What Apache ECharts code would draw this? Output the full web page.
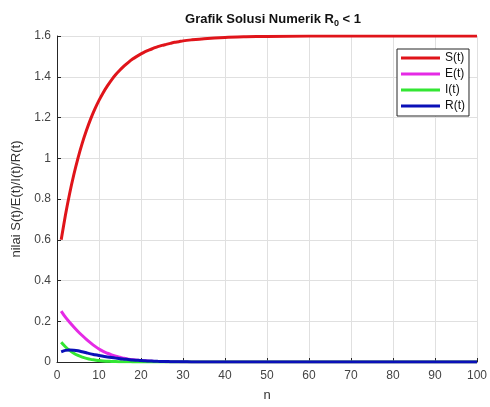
<!DOCTYPE html>
<html>
<head>
<meta charset="utf-8">
<script src="https://cdn.jsdelivr.net/npm/echarts@6/dist/echarts.min.js"></script>
<style>html,body{margin:0;padding:0;background:#fff;overflow:hidden;}#c{width:490px;height:407px;}</style>
</head>
<body>
<div id="c"></div>
<script>
var nVals = [1,2,3,4,5,6,7,8,9,10,11,12,13,14,15,16,17,18,19,20,21,22,23,24,25,26,27,28,29,30,32,35,40,45,50,60,70,80,90,100];
var sVals = [0.600,0.720,0.826,0.919,1.001,1.073,1.136,1.192,1.241,1.284,1.322,1.355,1.385,1.411,1.433,1.453,1.471,1.487,1.500,1.512,1.523,1.532,1.540,1.548,1.554,1.559,1.564,1.569,1.572,1.576,1.581,1.587,1.593,1.596,1.598,1.600,1.600,1.600,1.600,1.600];
var eVals = [0.250,0.220,0.195,0.172,0.150,0.130,0.111,0.094,0.078,0.064,0.052,0.043,0.035,0.028,0.023,0.018,0.014,0.011,0.009,0.007,0.0055,0.0043,0.0034,0.0027,0.0021,0.0016,0.0012,0.0009,0.0007,0.0005,0.0003,0.0001,0,0,0,0,0,0,0,0];
var iVals = [0.097,0.075,0.057,0.043,0.032,0.024,0.018,0.013,0.010,0.007,0.005,0.004,0.003,0.002,0.0015,0.001,0.0008,0.0006,0.0004,0.0003,0.0002,0.0002,0.0001,0.0001,0,0,0,0,0,0,0,0,0,0,0,0,0,0,0,0];
var rVals = [0.050,0.057,0.059,0.058,0.055,0.050,0.045,0.040,0.036,0.032,0.028,0.025,0.022,0.019,0.016,0.014,0.012,0.010,0.0085,0.007,0.006,0.005,0.004,0.0033,0.0027,0.0022,0.0018,0.0014,0.0011,0.0009,0.0006,0.0003,0.0001,0,0,0,0,0,0,0];
var seriesNames = ['S(t)','E(t)','I(t)','R(t)'];
var seriesColors = ['#e0141a','#e52ae5','#33e633','#0a10b8'];
var allVals = [sVals, eVals, iVals, rVals];

function pairs(ys){ return nVals.map(function(n,i){ return [n, ys[i]]; }); }

var font = '"Liberation Sans", Arial, sans-serif';
var chart = echarts.init(document.getElementById('c'), null, {renderer:'canvas'});
chart.setOption({
  animation: false,
  backgroundColor: '#fff',
  title: {
    text: 'Grafik Solusi Numerik R{sub|0} < 1',
    left: 268, top: 5, textAlign: 'center',
    textStyle: {
      fontFamily: font, fontSize: 13, fontWeight: 'bold', color: '#111',
      rich: { sub: { fontFamily: font, fontSize: 9, fontWeight: 'bold', color: '#111', padding: [9,0,0,0] } }
    }
  },
  grid: { left: 57, right: 12, top: 36, bottom: 39 },
  legend: {
    orient: 'vertical', left: 397, top: 49,
    data: seriesNames,
    icon: 'rect', itemWidth: 39, itemHeight: 3, itemGap: 4,
    padding: [3, 4, 4, 4],
    backgroundColor: '#fff', borderColor: '#262626', borderWidth: 1,
    textStyle: { fontFamily: font, fontSize: 12, color: '#111' }
  },
  xAxis: {
    type: 'value', min: 0, max: 100, interval: 10,
    name: 'n', nameLocation: 'middle', nameGap: 27,
    nameTextStyle: { fontFamily: font, fontSize: 13, color: '#333' },
    axisLine: { show: true, lineStyle: { color: '#262626', width: 1 } },
    axisTick: { show: true, inside: true, length: 4, lineStyle: { color: '#262626' } },
    axisLabel: { fontFamily: font, fontSize: 12, color: '#444', margin: 8 },
    splitLine: { show: true, lineStyle: { color: '#e0e0e0', width: 1 } }
  },
  yAxis: {
    type: 'value', min: 0, max: 1.6, interval: 0.2,
    name: 'nilai S(t)/E(t)/I(t)/R(t)', nameLocation: 'middle', nameGap: 25,
    nameTextStyle: { fontFamily: font, fontSize: 13, color: '#333' },
    axisLine: { show: true, lineStyle: { color: '#262626', width: 1 } },
    axisTick: { show: true, inside: true, length: 4, lineStyle: { color: '#262626' } },
    axisLabel: { fontFamily: font, fontSize: 12, color: '#444', margin: 6 },
    splitLine: { show: true, lineStyle: { color: '#e0e0e0', width: 1 } }
  },
  series: seriesNames.map(function(nm, k){
    return {
      name: nm, type: 'line', data: pairs(allVals[k]),
      showSymbol: false, symbol: 'none', smooth: 0.3,
      color: seriesColors[k],
      lineStyle: { color: seriesColors[k], width: 3 },
      itemStyle: { color: seriesColors[k] }
    };
  })
});
</script>
</body>
</html>
